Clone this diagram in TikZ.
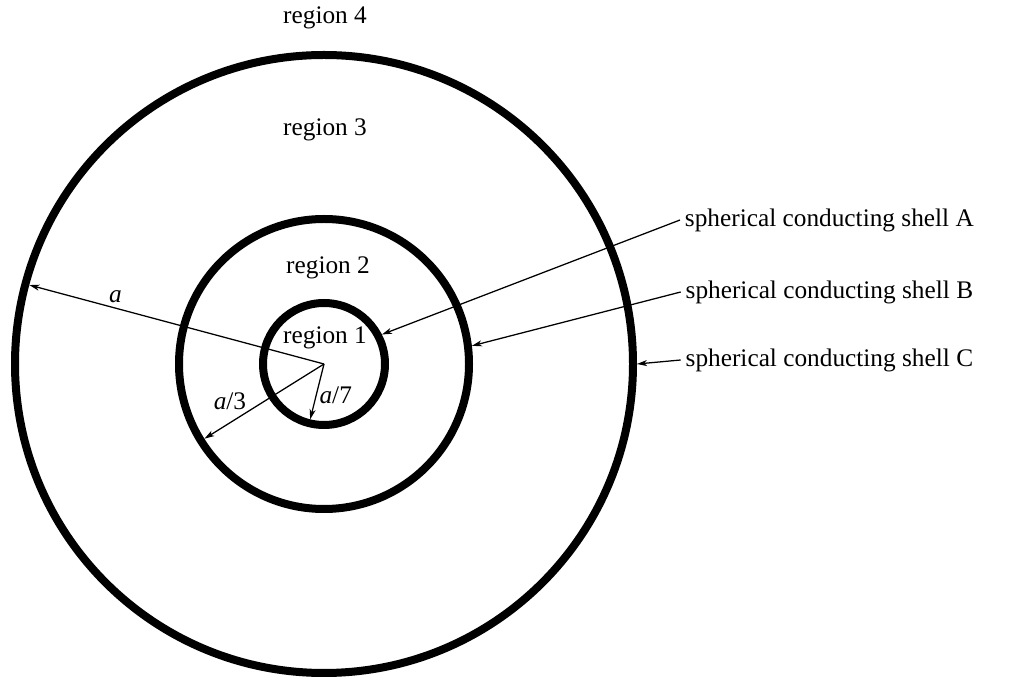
\documentclass[tikz,border=0pt]{standalone}
\usepackage{fontspec}
\setmainfont{Liberation Serif}
\usetikzlibrary{arrows.meta, positioning}

\begin{document}
\begin{tikzpicture}[node distance=1.75cm,
    shell/.style={circle, draw, line width=0.2cm, inner sep=0pt},
    lbl/.style={font=\fontsize{18}{21}\selectfont},
    pointer/.style={-{Stealth[length=0.25cm, width=0.15cm, inset=0.07cm]}, line width=0.9pt}]
    \useasboundingbox (0,0) rectangle (25.25,17);

    \coordinate (O) at (8.1,7.9);
    \node[shell, minimum size=15.45cm] (shC) at (O) {};
    \node[shell, minimum size=7.25cm] (shB) at (O) {};
    \node[shell, minimum size=3.05cm] (shA) at (O) {};

    \node[lbl] (reg4) at (8.125,16.55) {region 4};
    \node[lbl] (reg3) at (8.125,13.75) {region 3};
    \node[lbl] (reg2) at (8.2,10.3) {region 2};
    \node[lbl] (reg1) at (8.125,8.55) {region 1};

    \node[lbl, anchor=west] (lblA) at (17.0,11.5) {spherical conducting shell A};
    \node[lbl, anchor=west, below of=lblA, node distance=1.8cm] (lblB) {spherical conducting shell B};
    \node[lbl, anchor=west, below of=lblB, node distance=1.7cm] (lblC) {spherical conducting shell C};

    % Radii
    \draw[pointer, shorten >=0.2cm] (O) -- node[lbl, above, pos=0.69, inner sep=3pt] {\textit{a}} (shC.165);
    \draw[pointer, shorten >=0.2cm] (O) -- node[lbl, above left, pos=0.6, inner sep=1pt] {\textit{a}/3} (shB.212);
    \draw[pointer, shorten >=0.2cm] (O) -- node[lbl, right, pos=0.5, inner sep=2pt] {\textit{a}/7} (shA.256);

    % Leaders
    \draw[pointer] (lblA.west) -- (shA.27);
    \draw[pointer] (lblB.west) -- (shB.7);
    \draw[pointer] (lblC.west) -- (shC.east);
\end{tikzpicture}
\end{document}
